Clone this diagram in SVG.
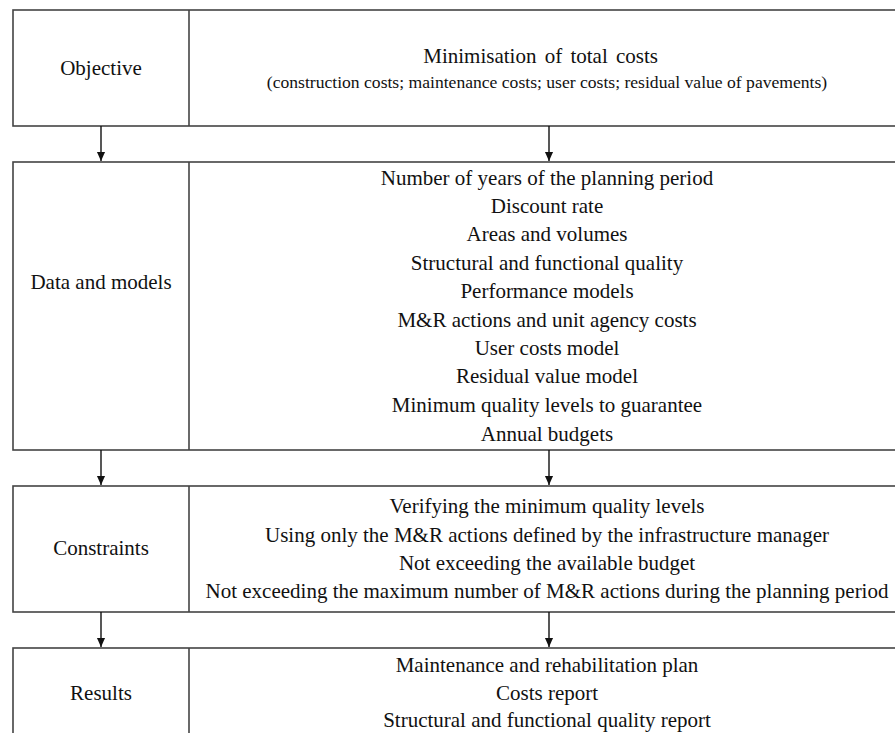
<svg xmlns="http://www.w3.org/2000/svg" width="895" height="733" viewBox="0 0 895 733">
<style>
.box{fill:#fff;stroke:#444;stroke-width:1.6}
.div{stroke:#444;stroke-width:1.6}
.t{font-family:"Liberation Serif","Times New Roman",serif;font-size:21px;fill:#111;text-anchor:middle}
.s{font-family:"Liberation Serif","Times New Roman",serif;font-size:17.6px;fill:#111;text-anchor:middle}
.c{stroke:#111;stroke-width:1.4;fill:none}
</style>
<defs>
<marker id="a" markerWidth="9" markerHeight="11" refX="10" refY="4.5" orient="auto" markerUnits="userSpaceOnUse" viewBox="0 0 10 9">
<path d="M0,0 L10,4.5 L0,9 Z" fill="#111"/>
</marker>
</defs>
<rect width="895" height="733" fill="#fff"/>
<g id="objective">
<rect class="box" x="13" y="10" width="900" height="116"/>
<line class="div" x1="189" y1="10" x2="189" y2="126"/>
<text class="t" x="101" y="75">Objective</text>
<text class="t" x="658" y="63" style="text-anchor:end" word-spacing="3">Minimisation of total costs</text>
<text class="s" x="547" y="88">(construction costs; maintenance costs; user costs; residual value of pavements)</text>
</g>
<g id="data">
<rect class="box" x="13" y="162" width="900" height="288"/>
<line class="div" x1="189" y1="162" x2="189" y2="450"/>
<text class="t" x="101" y="289">Data and models</text>
<text class="t" x="547" y="185">Number of years of the planning period</text>
<text class="t" x="547" y="213">Discount rate</text>
<text class="t" x="547" y="241">Areas and volumes</text>
<text class="t" x="547" y="270">Structural and functional quality</text>
<text class="t" x="547" y="298">Performance models</text>
<text class="t" x="547" y="327">M&amp;R actions and unit agency costs</text>
<text class="t" x="547" y="355">User costs model</text>
<text class="t" x="547" y="383">Residual value model</text>
<text class="t" x="547" y="412">Minimum quality levels to guarantee</text>
<text class="t" x="547" y="441">Annual budgets</text>
</g>
<g id="constraints">
<rect class="box" x="13" y="486" width="900" height="126"/>
<line class="div" x1="189" y1="486" x2="189" y2="612"/>
<text class="t" x="101" y="555">Constraints</text>
<text class="t" x="547" y="513">Verifying the minimum quality levels</text>
<text class="t" x="547" y="542">Using only the M&amp;R actions defined by the infrastructure manager</text>
<text class="t" x="547" y="570">Not exceeding the available budget</text>
<text class="t" x="547" y="598">Not exceeding the maximum number of M&amp;R actions during the planning period</text>
</g>
<g id="results">
<rect class="box" x="13" y="648" width="900" height="120"/>
<line class="div" x1="189" y1="648" x2="189" y2="768"/>
<text class="t" x="101" y="700">Results</text>
<text class="t" x="547" y="672">Maintenance and rehabilitation plan</text>
<text class="t" x="547" y="700">Costs report</text>
<text class="t" x="547" y="727">Structural and functional quality report</text>
</g>
<g id="connectors">
<line class="c" x1="101" y1="126" x2="101" y2="161" marker-end="url(#a)"/>
<line class="c" x1="549" y1="126" x2="549" y2="161" marker-end="url(#a)"/>
<line class="c" x1="101" y1="450" x2="101" y2="485" marker-end="url(#a)"/>
<line class="c" x1="549" y1="450" x2="549" y2="485" marker-end="url(#a)"/>
<line class="c" x1="101" y1="612" x2="101" y2="647" marker-end="url(#a)"/>
<line class="c" x1="549" y1="612" x2="549" y2="647" marker-end="url(#a)"/>
</g>
</svg>
